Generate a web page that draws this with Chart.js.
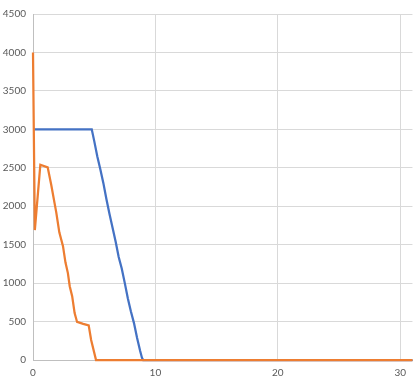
<!DOCTYPE html>
<html>
<head>
<meta charset="utf-8">
<script src="https://cdn.jsdelivr.net/npm/chart.js@4/dist/chart.umd.min.js"></script>
<style>
  html, body { margin: 0; padding: 0; background: #fff; }
  #wrap { width: 413px; height: 388px; }
</style>
</head>
<body>
<div id="wrap"><canvas id="chart"></canvas></div>
<script>
// ==================== DATA ====================
const blueX = [0, 4.8, 5.0, 5.25, 5.5, 5.75, 6.0, 6.25, 6.5, 6.75, 7.0, 7.25, 7.5, 7.75, 8.0, 8.25, 8.5, 8.75, 8.9, 9.0, 31];
const blueY = [3000, 3000, 2850, 2650, 2480, 2300, 2090, 1900, 1720, 1540, 1340, 1190, 1000, 800, 630, 480, 290, 120, 30, 0, 0];

const orangeX = [0, 0.15, 0.6, 1.2, 1.5, 1.75, 1.9, 2.15, 2.45, 2.65, 2.85, 3.0, 3.2, 3.4, 3.6, 4.1, 4.55, 4.75, 5.15, 31];
const orangeY = [4000, 1690, 2540, 2505, 2270, 2050, 1920, 1660, 1480, 1270, 1130, 960, 830, 610, 495, 470, 450, 260, 0, 0];

const xTicks = [0, 10, 20, 30];
const yTicks = [0, 500, 1000, 1500, 2000, 2500, 3000, 3500, 4000, 4500];

const toPoints = (xs, ys) => xs.map((x, i) => ({ x: x, y: ys[i] }));

// ==================== CHART ====================
const textColor = '#595959';
const gridColor = '#d9d9d9';

new Chart(document.getElementById('chart').getContext('2d'), {
    type: 'scatter',
    data: {
        datasets: [
            {
                data: toPoints(orangeX, orangeY),
                borderColor: '#ED7D31',
                showLine: true,
                borderWidth: 2.25,
                pointRadius: 0,
                clip: false,
                order: 1
            },
            {
                data: toPoints(blueX, blueY),
                borderColor: '#4472C4',
                showLine: true,
                borderWidth: 2.25,
                pointRadius: 0,
                clip: false,
                order: 2
            }
        ]
    },
    options: {
        responsive: true,
        maintainAspectRatio: false,
        animation: false,
        layout: { padding: { top: 14, right: 0, left: 0, bottom: 2 } },
        plugins: {
            legend: { display: false },
            tooltip: { enabled: false }
        },
        scales: {
            x: {
                type: 'linear',
                min: 0,
                max: 31,
                afterBuildTicks: s => { s.ticks = xTicks.map(v => ({ value: v })); },
                grid: { color: gridColor, drawTicks: false },
                border: { color: '#bfbfbf' },
                ticks: {
                    color: textColor, padding: 7,
                    font: { family: 'Lato', size: 10 },
                    callback: v => String(v)
                }
            },
            y: {
                min: 0,
                max: 4500,
                afterBuildTicks: s => { s.ticks = yTicks.map(v => ({ value: v })); },
                afterFit: s => { s.width = 33; },
                grid: { color: gridColor, drawTicks: false },
                border: { color: '#bfbfbf' },
                ticks: {
                    color: textColor, padding: 7,
                    font: { family: 'Lato', size: 10 },
                    callback: v => String(v)
                }
            }
        }
    }
});
</script>
</body>
</html>
